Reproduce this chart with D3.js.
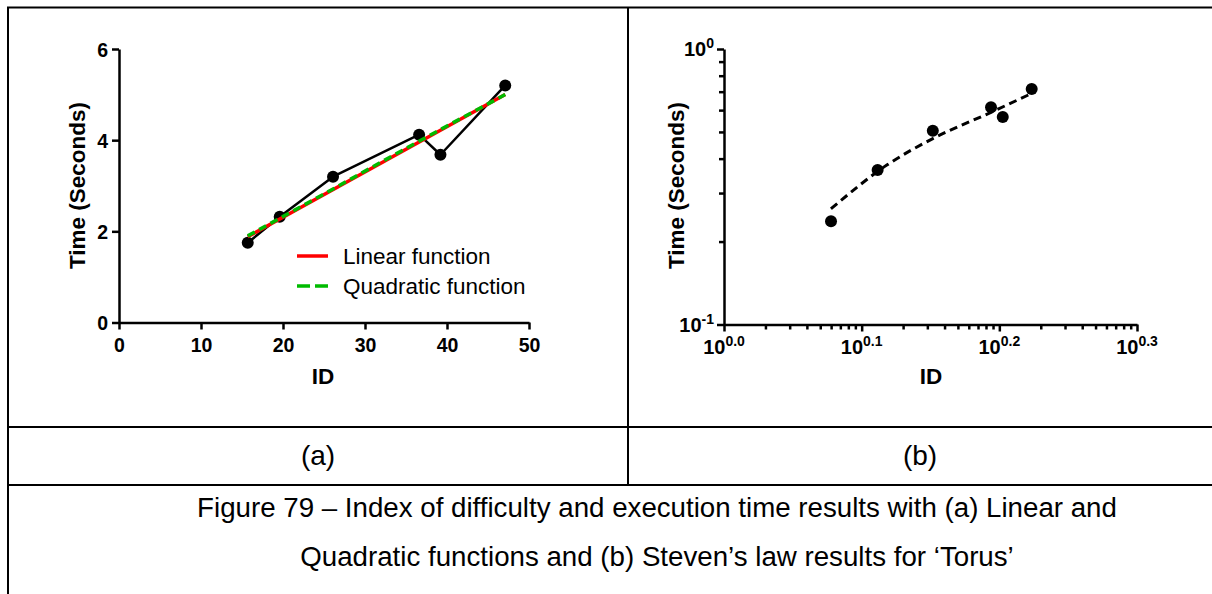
<!DOCTYPE html>
<html>
<head>
<meta charset="utf-8">
<script src="https://cdn.jsdelivr.net/npm/d3@7"></script>
<style>
  html, body { margin: 0; padding: 0; background: #fff; }
  svg { display: block; }
  text { font-family: "Liberation Sans", Arial, sans-serif; }
</style>
</head>
<body>
<svg id="chart" width="1212" height="594"></svg>
<script>
// ---------- Data: panel (a) ----------
const idA = [15.7, 19.6, 26.1, 36.6, 39.2, 47.1];
const timeA = [1.75, 2.32, 3.2, 4.12, 3.68, 5.2];
const linearX = [15.7, 47.1];
const linearY = [1.88, 5.0];
const quadX = [15.7, 25, 35, 47.1];
const quadY = [1.9, 2.82, 3.82, 5.0];
const xTicksA = [0, 10, 20, 30, 40, 50];
const yTicksA = [0, 2, 4, 6];
const legendLabels = ["Linear function", "Quadratic function"];
const legendColors = ["#ff0000", "#00bb00"];

// ---------- Data: panel (b) ----------
const idB = [1.196, 1.293, 1.418, 1.563, 1.594, 1.673];
const timeB = [0.237, 0.364, 0.505, 0.614, 0.566, 0.716];
const stevensX = [1.196, 1.313, 1.418, 1.563, 1.673];
const stevensY = [0.263, 0.379, 0.473, 0.589, 0.690];
const xMajorExpB = ["0.0", "0.1", "0.2", "0.3"];
const yMajorExpB = ["-1", "0"];

// ---------- Captions ----------
const subLabels = ["(a)", "(b)"];
const captionLines = [
  "Figure 79 \u2013 Index of difficulty and execution time results with (a) Linear and",
  "Quadratic functions and (b) Steven\u2019s law results for \u2018Torus\u2019"
];

const svg = d3.select("#chart");
svg.append("rect").attr("width", 1212).attr("height", 594).attr("fill", "#fff");

// ---------- Table borders ----------
const border = svg.append("g").attr("stroke", "#000").attr("stroke-width", 2);
border.append("line").attr("x1", 7).attr("x2", 1212).attr("y1", 7.5).attr("y2", 7.5);
border.append("line").attr("x1", 8).attr("x2", 8).attr("y1", 7).attr("y2", 594);
border.append("line").attr("x1", 628).attr("x2", 628).attr("y1", 7).attr("y2", 485);
border.append("line").attr("x1", 7).attr("x2", 1212).attr("y1", 427).attr("y2", 427);
border.append("line").attr("x1", 7).attr("x2", 1212).attr("y1", 485).attr("y2", 485);

// sub labels
const subX = [318, 920];
svg.selectAll(".sub").data(subLabels).join("text")
  .attr("class", "sub")
  .attr("x", (d, i) => subX[i]).attr("y", 465)
  .attr("text-anchor", "middle")
  .attr("font-size", 28)
  .text(d => d);

svg.selectAll(".cap").data(captionLines).join("text")
  .attr("class", "cap")
  .attr("x", 657).attr("y", (d, i) => 517 + i * 49)
  .attr("text-anchor", "middle")
  .attr("font-size", 27.7)
  .text(d => d);

// ---------- Panel (a) ----------
const xA = d3.scaleLinear().domain([0, 50]).range([119, 529]);
const yA = d3.scaleLinear().domain([0, 6]).range([322.5, 49]);

function styleAxis(g) {
  g.selectAll("path.domain").attr("stroke", "#000").attr("stroke-width", 2.5);
  g.selectAll(".tick line").attr("stroke", "#000").attr("stroke-width", 2.5);
  g.selectAll(".tick text").attr("font-size", 19.5).attr("font-weight", "bold")
    .attr("fill", "#000").attr("font-family", "'Liberation Sans', Arial, sans-serif");
}

const gxA = svg.append("g").attr("transform", `translate(0,${yA(0)})`)
  .call(d3.axisBottom(xA).tickValues(xTicksA).tickFormat(d3.format("d"))
    .tickSize(7).tickSizeOuter(0).tickPadding(9));
styleAxis(gxA);
const gyA = svg.append("g").attr("transform", `translate(${xA(0)},0)`)
  .call(d3.axisLeft(yA).tickValues(yTicksA).tickFormat(d3.format("d"))
    .tickSize(7).tickSizeOuter(0).tickPadding(4));
styleAxis(gyA);
gyA.selectAll(".tick text").attr("dy", "0.36em");

svg.append("text").attr("transform", "translate(85,185.5) rotate(-90)")
  .attr("text-anchor", "middle").attr("font-size", 22.5).attr("font-weight", "bold")
  .text("Time (Seconds)");
svg.append("text").attr("x", 323).attr("y", 384)
  .attr("text-anchor", "middle").attr("font-size", 22.5).attr("font-weight", "bold")
  .text("ID");

const ptsA = idA.map((d, i) => [d, timeA[i]]);
const lineA = d3.line().x(d => xA(d[0])).y(d => yA(d[1]));
svg.append("path").datum(ptsA).attr("d", lineA)
  .attr("fill", "none").attr("stroke", "#000").attr("stroke-width", 2.5)
  .attr("stroke-linejoin", "round");
svg.selectAll(".ptA").data(ptsA).join("circle").attr("class", "ptA")
  .attr("cx", d => xA(d[0])).attr("cy", d => yA(d[1])).attr("r", 6).attr("fill", "#000");

const linPts = linearX.map((d, i) => [d, linearY[i]]);
const quadPts = quadX.map((d, i) => [d, quadY[i]]);
svg.append("path").datum(linPts).attr("d", lineA)
  .attr("fill", "none").attr("stroke", legendColors[0]).attr("stroke-width", 3.5);
svg.append("path").datum(quadPts).attr("d", d3.line().x(d => xA(d[0])).y(d => yA(d[1])).curve(d3.curveMonotoneX))
  .attr("fill", "none").attr("stroke", legendColors[1]).attr("stroke-width", 3.5)
  .attr("stroke-dasharray", "8,5");

// legend
const leg = svg.append("g");
legendLabels.forEach((lab, i) => {
  const y = 256 + i * 30;
  leg.append("line").attr("x1", 297).attr("x2", 328).attr("y1", y).attr("y2", y)
    .attr("stroke", legendColors[i]).attr("stroke-width", 3.5)
    .attr("stroke-dasharray", i === 1 ? "13,5" : null);
  leg.append("text").attr("x", 343).attr("y", y + 7.5)
    .attr("font-size", 22.5).attr("fill", "#000").text(lab);
});

// ---------- Panel (b) ----------
const xB = d3.scaleLog().domain([1, Math.pow(10, 0.3)]).range([724, 1137]);
const yB = d3.scaleLog().domain([0.1, 1]).range([324.5, 49]);

const xMajorB = xMajorExpB.map(e => Math.pow(10, +e));
const xMinorB = [];
for (let a = 0; a < 3; a++) for (let k = 2; k <= 9; k++) xMinorB.push(Math.pow(10, a * 0.1 + 0.1 * Math.log10(k)));
const yMajorB = yMajorExpB.map(e => Math.pow(10, +e));
const yMinorB = d3.range(2, 10).map(k => k / 10);

const gxB = svg.append("g").attr("transform", `translate(0,${yB(0.1)})`)
  .call(d3.axisBottom(xB).tickValues(xMajorB).tickSize(7).tickSizeOuter(0).tickFormat(""));
styleAxis(gxB);
const gxBm = svg.append("g").attr("transform", `translate(0,${yB(0.1)})`)
  .call(d3.axisBottom(xB).tickValues(xMinorB).tickSize(5).tickSizeOuter(0).tickFormat(""));
styleAxis(gxBm);
gxBm.select("path.domain").remove();

const gyB = svg.append("g").attr("transform", `translate(${xB(1)},0)`)
  .call(d3.axisLeft(yB).tickValues(yMajorB).tickSize(7).tickSizeOuter(0).tickFormat(""));
styleAxis(gyB);
const gyBm = svg.append("g").attr("transform", `translate(${xB(1)},0)`)
  .call(d3.axisLeft(yB).tickValues(yMinorB).tickSize(5).tickSizeOuter(0).tickFormat(""));
styleAxis(gyBm);
gyBm.select("path.domain").remove();

// tick labels with superscripts
xMajorExpB.forEach(e => {
  const t = svg.append("text").attr("x", xB(Math.pow(10, +e))).attr("y", 354)
    .attr("text-anchor", "middle").attr("font-weight", "bold").attr("font-size", 20);
  t.append("tspan").text("10");
  t.append("tspan").attr("font-size", 14).attr("dy", -8).text(e);
});
yMajorExpB.forEach(e => {
  const t = svg.append("text").attr("x", xB(1) - 10).attr("y", yB(Math.pow(10, +e)) + 7)
    .attr("text-anchor", "end").attr("font-weight", "bold").attr("font-size", 20);
  t.append("tspan").text("10");
  t.append("tspan").attr("font-size", 14).attr("dy", -8).text(e);
});

svg.append("text").attr("transform", "translate(684,185.5) rotate(-90)")
  .attr("text-anchor", "middle").attr("font-size", 22.5).attr("font-weight", "bold")
  .text("Time (Seconds)");
svg.append("text").attr("x", 931).attr("y", 384)
  .attr("text-anchor", "middle").attr("font-size", 22.5).attr("font-weight", "bold")
  .text("ID");

const stevPts = stevensX.map((d, i) => [d, stevensY[i]]);
svg.append("path").datum(stevPts)
  .attr("d", d3.line().x(d => xB(d[0])).y(d => yB(d[1])).curve(d3.curveMonotoneX))
  .attr("fill", "none").attr("stroke", "#000").attr("stroke-width", 3)
  .attr("stroke-dasharray", "8,5");
svg.selectAll(".ptB").data(idB.map((d, i) => [d, timeB[i]])).join("circle").attr("class", "ptB")
  .attr("cx", d => xB(d[0])).attr("cy", d => yB(d[1])).attr("r", 6).attr("fill", "#000");
</script>
</body>
</html>
